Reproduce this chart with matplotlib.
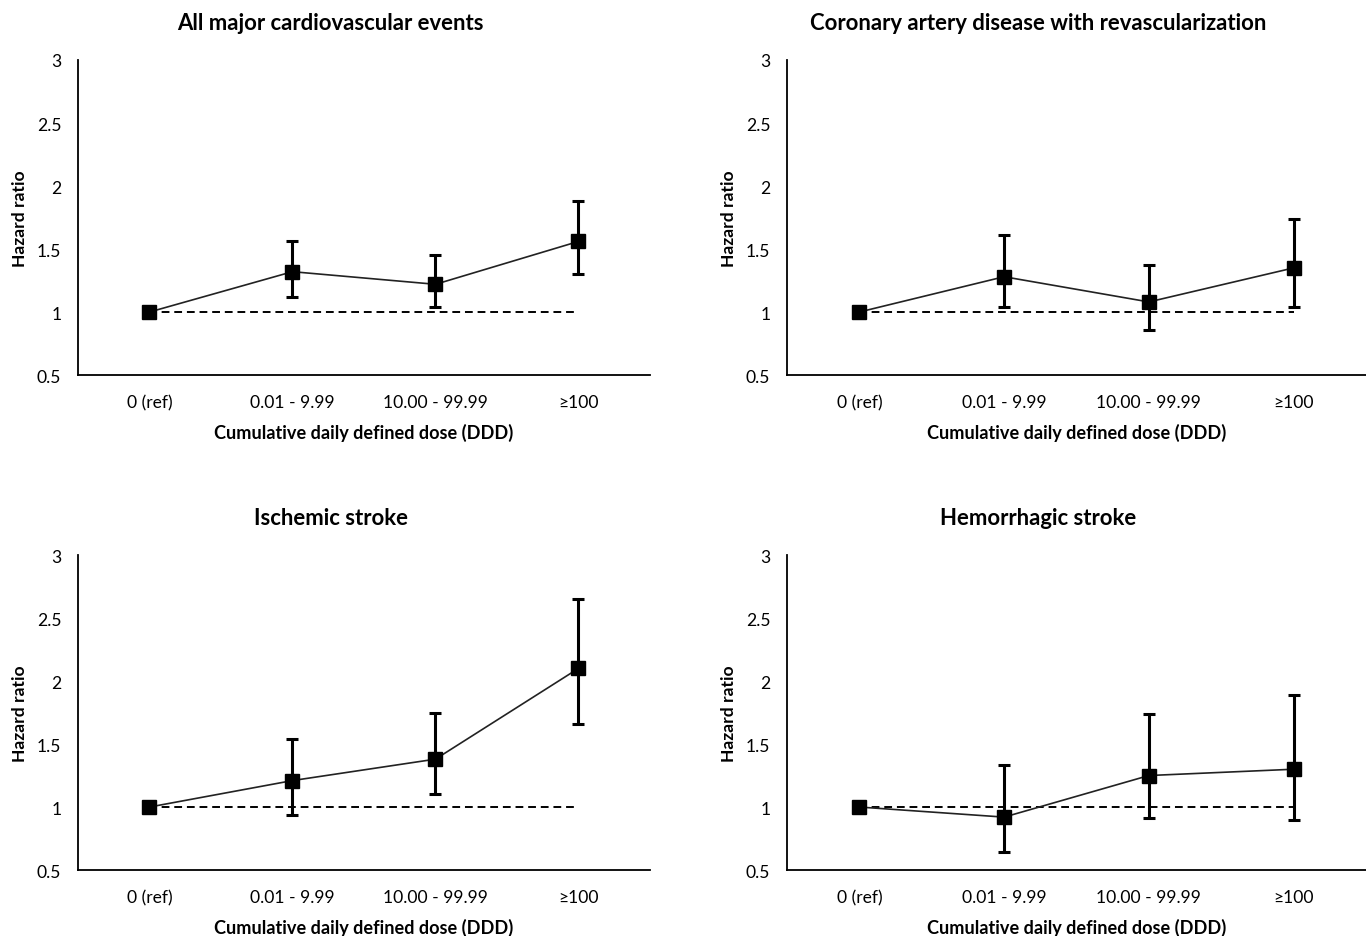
import matplotlib
matplotlib.use("Agg")
import matplotlib.pyplot as plt

plt.rcParams['font.family'] = ['Lato', 'DejaVu Sans']

categories = ["0 (ref)", "0.01 - 9.99", "10.00 - 99.99", "≥100"]
titles = ["All major cardiovascular events",
          "Coronary artery disease with revascularization",
          "Ischemic stroke",
          "Hemorrhagic stroke"]

hr_all = [1.00, 1.32, 1.22, 1.56]
lo_all = [1.00, 1.12, 1.04, 1.30]
hi_all = [1.00, 1.56, 1.45, 1.88]

hr_cad = [1.00, 1.28, 1.08, 1.35]
lo_cad = [1.00, 1.04, 0.86, 1.04]
hi_cad = [1.00, 1.61, 1.37, 1.74]

hr_isch = [1.00, 1.21, 1.38, 2.10]
lo_isch = [1.00, 0.94, 1.10, 1.66]
hi_isch = [1.00, 1.54, 1.75, 2.65]

hr_hem = [1.00, 0.92, 1.25, 1.30]
lo_hem = [1.00, 0.64, 0.91, 0.90]
hi_hem = [1.00, 1.33, 1.74, 1.89]

yticks = [0.5, 1, 1.5, 2, 2.5, 3]
ytick_labels = ["0.5", "1", "1.5", "2", "2.5", "3"]

series = [(hr_all, lo_all, hi_all), (hr_cad, lo_cad, hi_cad),
          (hr_isch, lo_isch, hi_isch), (hr_hem, lo_hem, hi_hem)]

fig = plt.figure(figsize=(13.66, 9.37), dpi=100)
positions = [
    [0.0571, 0.5987, 0.4187, 0.3362],
    [0.5761, 0.5987, 0.4239, 0.3362],
    [0.0571, 0.0704, 0.4187, 0.3362],
    [0.5761, 0.0704, 0.4239, 0.3362],
]
title_x = [0.442, 0.434, 0.442, 0.434]

for pos, title, tx, (hr, lo, hi) in zip(positions, titles, title_x, series):
    ax = fig.add_axes(pos)
    x = [i + 0.5 for i in range(len(categories))]
    ax.plot([x[0], x[-1]], [1, 1], linestyle=(0, (4, 2.5)), color='black', lw=1.4, zorder=1)
    yerr = [[h - l for h, l in zip(hr, lo)], [u - h for h, u in zip(hr, hi)]]
    ax.errorbar(x[1:], hr[1:], yerr=[yerr[0][1:], yerr[1][1:]], fmt='none',
                ecolor='black', elinewidth=2.2, capsize=4, capthick=2.2, zorder=2)
    ax.plot(x, hr, color='#222222', lw=1.2, zorder=3)
    ax.plot(x, hr, linestyle='none', marker='s', markersize=10, color='black', zorder=4)
    ax.set_xlim(0, 4)
    ax.set_ylim(0.5, 3)
    ax.set_yticks(yticks)
    ax.set_yticklabels(ytick_labels)
    ax.set_xticks(x)
    ax.set_xticklabels(categories)
    ax.tick_params(axis='both', length=0, labelsize=12.6)
    ax.tick_params(axis='x', pad=14)
    ax.tick_params(axis='y', pad=12)
    for s in ['top', 'right']:
        ax.spines[s].set_visible(False)
    for s in ['left', 'bottom']:
        ax.spines[s].set_linewidth(1.3)
    ax.set_title(title, fontsize=15.9, fontweight='bold', pad=22, x=tx)
    ax.set_xlabel("Cumulative daily defined dose (DDD)", fontsize=13.1, fontweight='bold', labelpad=9)
    ax.set_ylabel("Hazard ratio", fontsize=12.6, fontweight='bold', labelpad=6)

fig.savefig("out.png", dpi=100)
